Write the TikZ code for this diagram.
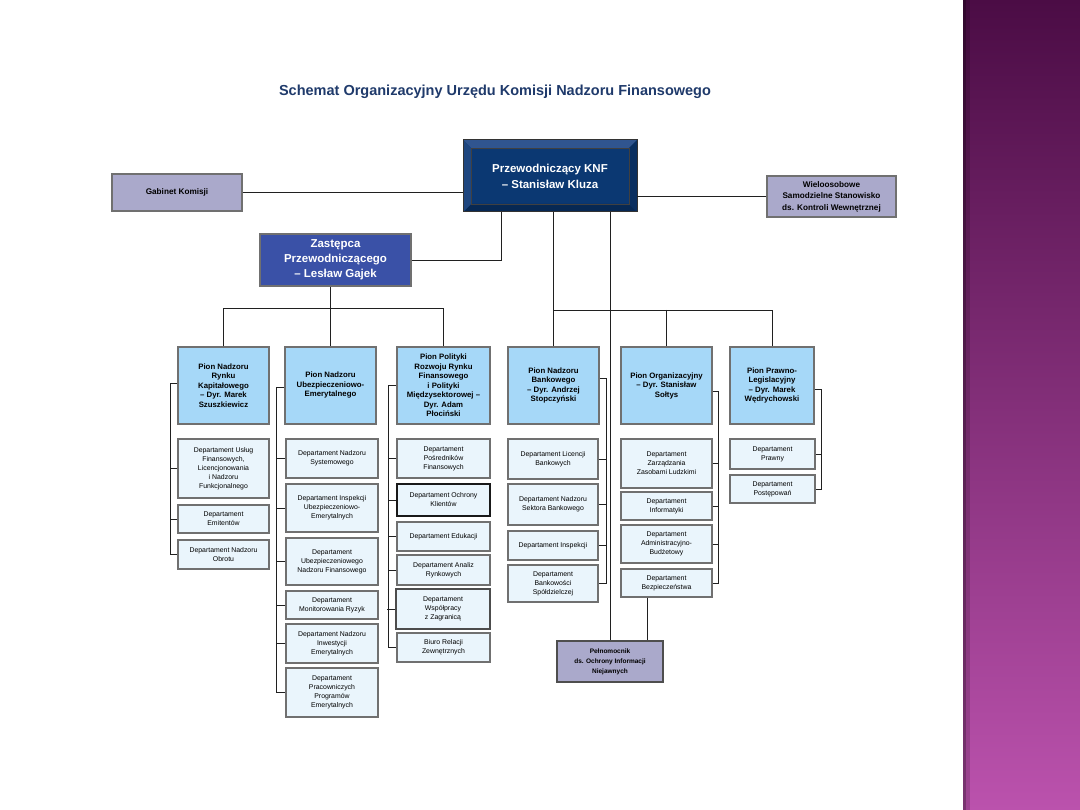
\documentclass[tikz,border=0pt]{standalone}
\usepackage{fontspec}
\setmainfont{Liberation Sans}
\usetikzlibrary{calc}
\definecolor{pionblue}{HTML}{A6D8F8}
\definecolor{deptblue}{HTML}{EAF5FC}
\definecolor{lav}{HTML}{AAA9CB}
\definecolor{zasblue}{HTML}{3A51A7}
\definecolor{knfnavy}{HTML}{0B3872}
\definecolor{bevtop}{HTML}{30558F}
\definecolor{bevleft}{HTML}{1E467F}
\definecolor{bevright}{HTML}{0A2F60}
\definecolor{bevbot}{HTML}{072853}
\definecolor{titleblue}{HTML}{1F3A6B}
\definecolor{boxedge}{HTML}{707070}
\definecolor{purtop}{HTML}{4B0C45}
\definecolor{purbot}{HTML}{BB52AD}
\definecolor{connc}{HTML}{202020}
\newcommand\mybox[7]{%
  \pgfmathsetmacro\myBW{#5-#3}%
  \pgfmathsetmacro\myBH{#6-#4}%
  \pgfmathsetmacro\myCX{(#3+#5)/2}%
  \pgfmathsetmacro\myCY{(#4+#6)/2}%
  \node[#2, minimum width=\myBW pt, minimum height=\myBH pt] (#1) at (\myCX,\myCY) {#7};%
}
\begin{document}
\begin{tikzpicture}[x=1pt,y=-1pt,
  boxbase/.style={rectangle, inner sep=1pt, align=center, line width=1.1pt},
  pion/.style={boxbase, draw=boxedge, fill=pionblue, font=\bfseries\fontsize{7.8}{9.5}\selectfont},
  dept/.style={boxbase, draw=boxedge, fill=deptblue, font=\fontsize{6.9}{9}\selectfont},
  lavbox/.style={boxbase, draw=boxedge, fill=lav, font=\bfseries\fontsize{8.2}{11.5}\selectfont},
  pelbox/.style={boxbase, draw=boxedge!70!black, fill=lav, font=\bfseries\fontsize{6.5}{10}\selectfont},
  zasbox/.style={boxbase, draw=boxedge, fill=zasblue, text=white, font=\bfseries\fontsize{11.5}{15}\selectfont},
  knfbox/.style={boxbase, outer sep=0pt, draw=none, fill=knfnavy, text=white, font=\bfseries\fontsize{11.5}{16}\selectfont},
  conn/.style={draw=connc, line width=0.9pt}
]
\useasboundingbox (0,0) rectangle (1080,810);
\fill[white] (0,0) rectangle (1080,810);
% purple side band
\shade[top color=purtop, bottom color=purbot, middle color=purtop!50!purbot] (963,0) rectangle (1080,810);
\fill[black, opacity=0.35] (963,0) rectangle (966,810);
\fill[black, opacity=0.15] (966,0) rectangle (970,810);

% title
\node[font=\bfseries\fontsize{14.5}{17}\selectfont, text=titleblue] (title) at (495,92) {Schemat Organizacyjny Urzędu Komisji Nadzoru Finansowego};

% top level
\mybox{gab}{lavbox}{112}{174}{242}{211}{Gabinet Komisji}
\mybox{wie}{lavbox}{767}{176}{896}{217}{Wieloosobowe\\Samodzielne Stanowisko\\ds. Kontroli Wewnętrznej}
\mybox{knf}{knfbox}{463}{140}{637}{212}{Przewodniczący KNF\\– Stanisław Kluza}
\fill[bevtop] (knf.north west) -- (knf.north east) -- ($(knf.north east)+(-8,8)$) -- ($(knf.north west)+(8,8)$) -- cycle;
\fill[bevbot] (knf.south west) -- (knf.south east) -- ($(knf.south east)+(-8,-8)$) -- ($(knf.south west)+(8,-8)$) -- cycle;
\fill[bevleft] (knf.north west) -- ($(knf.north west)+(8,8)$) -- ($(knf.south west)+(8,-8)$) -- (knf.south west) -- cycle;
\fill[bevright] (knf.north east) -- ($(knf.north east)+(-8,8)$) -- ($(knf.south east)+(-8,-8)$) -- (knf.south east) -- cycle;
\draw[black!75, line width=0.5pt] ($(knf.north west)+(8,8)$) rectangle ($(knf.south east)+(-8,-8)$);
\draw[black!80, line width=1pt] (knf.north west) rectangle (knf.south east);
\mybox{zas}{zasbox}{260}{234}{411}{286}{Zastępca\\Przewodniczącego\\– Lesław Gajek}
\mybox{pel}{pelbox}{557}{641}{663}{682}{Pełnomocnik\\ds. Ochrony Informacji\\Niejawnych}

% pions
\mybox{p1}{pion}{178}{347}{269}{424}{Pion Nadzoru\\Rynku\\Kapitałowego\\– Dyr. Marek\\Szuszkiewicz}
\mybox{p2}{pion}{285}{347}{376}{424}{Pion Nadzoru\\Ubezpieczeniowo-\\Emerytalnego}
\mybox{p3}{pion}{397}{347}{490}{424}{Pion Polityki\\Rozwoju Rynku\\Finansowego\\i Polityki\\Międzysektorowej –\\Dyr. Adam\\Płociński}
\mybox{p4}{pion}{508}{347}{599}{424}{Pion Nadzoru\\Bankowego\\– Dyr. Andrzej\\Stopczyński}
\mybox{p5}{pion}{621}{347}{712}{424}{Pion Organizacyjny\\– Dyr. Stanisław\\Sołtys}
\mybox{p6}{pion}{730}{347}{814}{424}{Pion Prawno-\\Legislacyjny\\– Dyr. Marek\\Wędrychowski}

% column 1
\mybox{d11}{dept}{178}{439}{269}{498}{Departament Usług\\Finansowych,\\Licencjonowania\\i Nadzoru\\Funkcjonalnego}
\mybox{d12}{dept}{178}{505}{269}{533}{Departament\\Emitentów}
\mybox{d13}{dept}{178}{540}{269}{569}{Departament Nadzoru\\Obrotu}
% column 2
\mybox{d21}{dept}{286}{439}{378}{478}{Departament Nadzoru\\Systemowego}
\mybox{d22}{dept}{286}{484}{378}{532}{Departament Inspekcji\\Ubezpieczeniowo-\\Emerytalnych}
\mybox{d23}{dept}{286}{538}{378}{585}{Departament\\Ubezpieczeniowego\\Nadzoru Finansowego}
\mybox{d24}{dept}{286}{591}{378}{619}{Departament\\Monitorowania Ryzyk}
\mybox{d25}{dept}{286}{624}{378}{663}{Departament Nadzoru\\Inwestycji\\Emerytalnych}
\mybox{d26}{dept}{286}{668}{378}{717}{Departament\\Pracowniczych\\Programów\\Emerytalnych}
% column 3
\mybox{d31}{dept}{397}{439}{490}{478}{Departament\\Pośredników\\Finansowych}
\mybox{d32}{dept, draw=black!90}{397}{484}{490}{516}{Departament Ochrony\\Klientów}
\mybox{d33}{dept}{397}{522}{490}{551}{Departament Edukacji}
\mybox{d34}{dept}{397}{555}{490}{585}{Departament Analiz\\Rynkowych}
\mybox{d35}{dept, draw=black!70}{396}{589}{490}{629}{Departament\\Współpracy\\z Zagranicą}
\mybox{d36}{dept}{397}{633}{490}{662}{Biuro Relacji\\Zewnętrznych}
% column 4
\mybox{d41}{dept}{508}{439}{598}{479}{Departament Licencji\\Bankowych}
\mybox{d42}{dept}{508}{484}{598}{525}{Departament Nadzoru\\Sektora Bankowego}
\mybox{d43}{dept}{508}{531}{598}{560}{Departament Inspekcji}
\mybox{d44}{dept}{508}{565}{598}{602}{Departament\\Bankowości\\Spółdzielczej}
% column 5
\mybox{d51}{dept}{621}{439}{712}{488}{Departament\\Zarządzania\\Zasobami Ludzkimi}
\mybox{d52}{dept}{621}{492}{712}{520}{Departament\\Informatyki}
\mybox{d53}{dept}{621}{525}{712}{563}{Departament\\Administracyjno-\\Budżetowy}
\mybox{d54}{dept}{621}{569}{712}{597}{Departament\\Bezpieczeństwa}
% column 6
\mybox{d61}{dept}{730}{439}{815}{469}{Departament\\Prawny}
\mybox{d62}{dept}{730}{475}{815}{503}{Departament\\Postępowań}

% connectors, top level
\draw[conn] (gab.east) -- (gab.east -| knf.west);
\draw[conn] (wie.west) -- (wie.west -| knf.east);
\draw[conn] ([xshift=-49pt]knf.south) |- (zas.east);
\coordinate (busL) at (0,308);
\coordinate (busR) at (0,310);
\draw[conn] (zas.south -| p2.north) -- (p2.north);
\draw[conn] (p1.north) -- (p1.north |- busL) -- (p3.north |- busL) -- (p3.north);
\draw[conn] (knf.south -| p4.north) -- (p4.north);
\draw[conn] (p4.north |- busR) -- (p6.north |- busR) -- (p6.north);
\draw[conn] (p5.north |- busR) -- (p5.north);
\draw[conn] (knf.south -| pel.north) -- (pel.north);
\draw[conn] ([xshift=-19.5pt]d54.south) -- ([xshift=-19.5pt]d54.south |- pel.north);

% column spines
\draw[conn] ([yshift=2pt]p1.west) -- ++(-7,0) |- (d13.west);
\foreach \n in {d11,d12} \draw[conn] (\n.west) -- ++(-7,0);
\draw[conn] ([yshift=-2pt]p2.west) -- ++(-8,0) |- (d26.west);
\foreach \n in {d21,d22,d23,d24,d25} \draw[conn] (\n.west) -- ++(-8,0);
\draw[conn] (p3.west) -- ++(-8,0) |- (d36.west);
\foreach \n in {d31,d32,d33,d34,d35} \draw[conn] (\n.west) -- ++(-8,0);
\draw[conn] ([yshift=7pt]p4.east) -- ++(7,0) |- (d44.east);
\foreach \n in {d41,d42,d43} \draw[conn] (\n.east) -- ++(7,0);
\draw[conn] ([yshift=-6pt]p5.east) -- ++(6,0) |- (d54.east);
\foreach \n in {d51,d52,d53} \draw[conn] (\n.east) -- ++(6,0);
\draw[conn] ([yshift=-4pt]p6.east) -- ++(7,0) |- (d62.east);
\draw[conn] (d61.east) -- ++(6,0);
\end{tikzpicture}
\end{document}
